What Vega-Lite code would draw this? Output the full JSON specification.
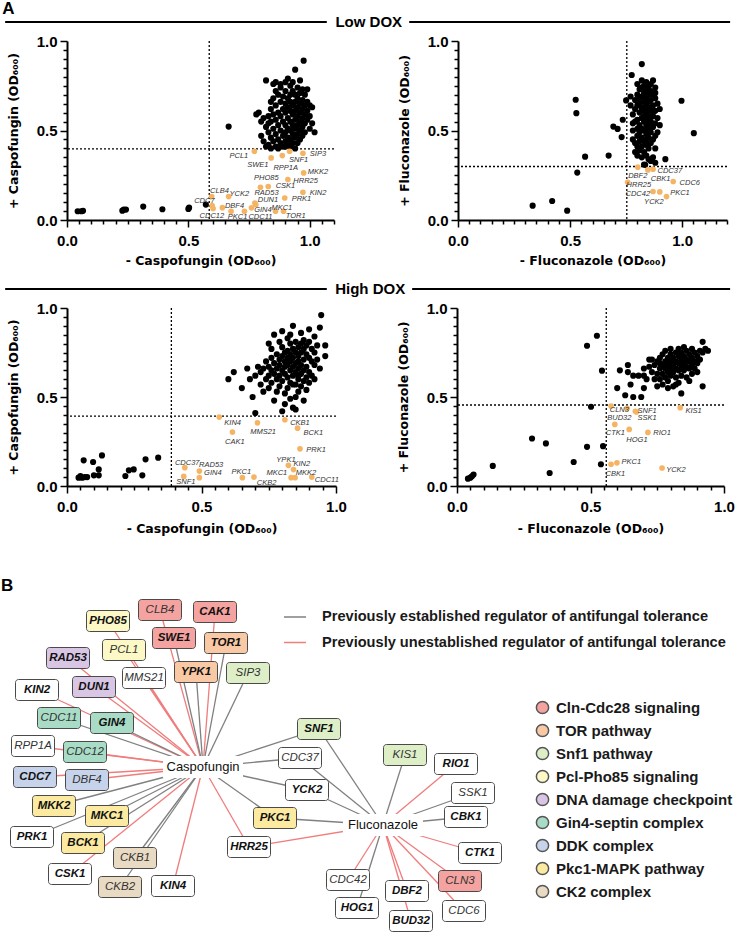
{
"$schema":"https://vega.github.io/schema/vega-lite/v6.json",
"background":"white",
"padding":0,
"spacing":0,
"config":{
 "view":{"stroke":null},
 "font":"Liberation Sans",
 "axis":{"domainColor":"#000","domainWidth":2,"tickColor":"#000","tickWidth":1.5,"labelColor":"#000","labelFont":"Liberation Sans","labelFontSize":15,"labelFontWeight":"bold","titleColor":"#000","titleFont":"DejaVu Sans","titleFontSize":12.5,"titleFontWeight":"bold","grid":false,"labelFlush":false,"labelOverlap":false,"tickCount":100},
 "legend":{"labelFont":"Liberation Sans","labelFontSize":15,"labelFontWeight":"bold","labelColor":"#1a1a1a"}
},
"datasets":{
 "sec":[{"panel":"A","section":"Low DOX"},{"panel":"","section":"High DOX"}],
 "thr":[{"p":"LC","vx":0.586,"hy":0.397},{"p":"LF","vx":0.753,"hy":0.299},{"p":"HC","vx":0.388,"hy":0.393},{"p":"HF","vx":0.559,"hy":0.455}],
 "pts":[
{"p":"LC","x":0.044,"y":0.049},{"p":"LC","x":0.059,"y":0.049},{"p":"LC","x":0.066,"y":0.051},{"p":"LC","x":0.228,"y":0.052},{"p":"LC","x":0.234,"y":0.058},{"p":"LC","x":0.243,"y":0.058},{"p":"LC","x":0.314,"y":0.075},{"p":"LC","x":0.393,"y":0.06},{"p":"LC","x":0.5,"y":0.062},{"p":"LC","x":0.503,"y":0.069},{"p":"LC","x":0.572,"y":0.086},{"p":"LC","x":0.666,"y":0.522},
{"p":"LC","x":0.78,"y":0.59},{"p":"LC","x":0.79,"y":0.6},{"p":"LC","x":0.8,"y":0.55},{"p":"LC","x":0.8,"y":0.47},{"p":"LC","x":0.81,"y":0.44},{"p":"LC","x":0.82,"y":0.78},{"p":"LC","x":0.82,"y":0.52},{"p":"LC","x":0.82,"y":0.41},{"p":"LC","x":0.83,"y":0.58},{"p":"LC","x":0.83,"y":0.49},{"p":"LC","x":0.83,"y":0.42},{"p":"LC","x":0.84,"y":0.62},{"p":"LC","x":0.84,"y":0.55},{"p":"LC","x":0.84,"y":0.46},{"p":"LC","x":0.84,"y":0.4},{"p":"LC","x":0.85,"y":0.76},{"p":"LC","x":0.85,"y":0.68},{"p":"LC","x":0.85,"y":0.59},{"p":"LC","x":0.85,"y":0.51},{"p":"LC","x":0.85,"y":0.44},{"p":"LC","x":0.86,"y":0.77},{"p":"LC","x":0.86,"y":0.64},{"p":"LC","x":0.86,"y":0.56},{"p":"LC","x":0.86,"y":0.48},{"p":"LC","x":0.86,"y":0.41},{"p":"LC","x":0.87,"y":0.7},{"p":"LC","x":0.87,"y":0.6},{"p":"LC","x":0.87,"y":0.53},{"p":"LC","x":0.87,"y":0.45},{"p":"LC","x":0.88,"y":0.74},{"p":"LC","x":0.88,"y":0.66},{"p":"LC","x":0.88,"y":0.58},{"p":"LC","x":0.88,"y":0.5},{"p":"LC","x":0.88,"y":0.43},{"p":"LC","x":0.89,"y":0.69},{"p":"LC","x":0.89,"y":0.62},{"p":"LC","x":0.89,"y":0.55},{"p":"LC","x":0.89,"y":0.47},{"p":"LC","x":0.89,"y":0.41},{"p":"LC","x":0.9,"y":0.72},{"p":"LC","x":0.9,"y":0.65},{"p":"LC","x":0.9,"y":0.6},{"p":"LC","x":0.9,"y":0.53},{"p":"LC","x":0.9,"y":0.49},{"p":"LC","x":0.9,"y":0.44},{"p":"LC","x":0.91,"y":0.79},{"p":"LC","x":0.91,"y":0.68},{"p":"LC","x":0.91,"y":0.63},{"p":"LC","x":0.91,"y":0.57},{"p":"LC","x":0.91,"y":0.51},{"p":"LC","x":0.91,"y":0.46},{"p":"LC","x":0.91,"y":0.42},{"p":"LC","x":0.92,"y":0.75},{"p":"LC","x":0.92,"y":0.7},{"p":"LC","x":0.92,"y":0.66},{"p":"LC","x":0.92,"y":0.61},{"p":"LC","x":0.92,"y":0.55},{"p":"LC","x":0.92,"y":0.5},{"p":"LC","x":0.92,"y":0.45},{"p":"LC","x":0.93,"y":0.77},{"p":"LC","x":0.93,"y":0.72},{"p":"LC","x":0.93,"y":0.64},{"p":"LC","x":0.93,"y":0.59},{"p":"LC","x":0.93,"y":0.53},{"p":"LC","x":0.93,"y":0.48},{"p":"LC","x":0.93,"y":0.43},{"p":"LC","x":0.94,"y":0.84},{"p":"LC","x":0.94,"y":0.7},{"p":"LC","x":0.94,"y":0.66},{"p":"LC","x":0.94,"y":0.61},{"p":"LC","x":0.94,"y":0.56},{"p":"LC","x":0.94,"y":0.51},{"p":"LC","x":0.94,"y":0.46},{"p":"LC","x":0.94,"y":0.4},{"p":"LC","x":0.95,"y":0.74},{"p":"LC","x":0.95,"y":0.68},{"p":"LC","x":0.95,"y":0.63},{"p":"LC","x":0.95,"y":0.58},{"p":"LC","x":0.95,"y":0.53},{"p":"LC","x":0.95,"y":0.48},{"p":"LC","x":0.95,"y":0.43},{"p":"LC","x":0.96,"y":0.78},{"p":"LC","x":0.96,"y":0.71},{"p":"LC","x":0.96,"y":0.65},{"p":"LC","x":0.96,"y":0.6},{"p":"LC","x":0.96,"y":0.55},{"p":"LC","x":0.96,"y":0.5},{"p":"LC","x":0.96,"y":0.45},{"p":"LC","x":0.975,"y":0.89},{"p":"LC","x":0.97,"y":0.73},{"p":"LC","x":0.97,"y":0.67},{"p":"LC","x":0.97,"y":0.62},{"p":"LC","x":0.97,"y":0.57},{"p":"LC","x":0.97,"y":0.52},{"p":"LC","x":0.97,"y":0.47},{"p":"LC","x":0.98,"y":0.7},{"p":"LC","x":0.98,"y":0.64},{"p":"LC","x":0.98,"y":0.59},{"p":"LC","x":0.98,"y":0.54},{"p":"LC","x":0.98,"y":0.49},{"p":"LC","x":0.99,"y":0.73},{"p":"LC","x":0.99,"y":0.66},{"p":"LC","x":0.99,"y":0.61},{"p":"LC","x":0.99,"y":0.56},{"p":"LC","x":1.0,"y":0.64},{"p":"LC","x":1.0,"y":0.58},{"p":"LC","x":1.0,"y":0.51},{"p":"LC","x":1.01,"y":0.63},{"p":"LC","x":1.01,"y":0.54},{"p":"LC","x":1.02,"y":0.49},{"p":"LC","x":0.87,"y":0.4},{"p":"LC","x":0.9,"y":0.41},{"p":"LC","x":0.92,"y":0.41},{"p":"LC","x":0.88,"y":0.76},{"p":"LC","x":0.9,"y":0.77},{"p":"LC","x":0.83,"y":0.54},{"p":"LC","x":0.81,"y":0.57},{"p":"LC","x":0.86,"y":0.72},{"p":"LC","x":0.84,"y":0.66},
{"p":"LC","g":"PCL1","x":0.772,"y":0.384,"lx":0.708,"ly":0.36},
{"p":"LC","g":"SWE1","x":0.841,"y":0.347,"lx":0.786,"ly":0.31},
{"p":"LC","g":"RPP1A","x":0.887,"y":0.36,"lx":0.901,"ly":0.288},
{"p":"LC","g":"SNF1","x":0.917,"y":0.384,"lx":0.954,"ly":0.336},
{"p":"LC","g":"SIP3","x":0.972,"y":0.373,"lx":1.034,"ly":0.369},
{"p":"LC","g":"MKK2","x":0.975,"y":0.263,"lx":1.034,"ly":0.267},
{"p":"LC","g":"PHO85","x":0.797,"y":0.183,"lx":0.821,"ly":0.232},
{"p":"LC","g":"CSK1","x":0.829,"y":0.187,"lx":0.9,"ly":0.19},
{"p":"LC","g":"HRR25","x":0.91,"y":0.226,"lx":0.983,"ly":0.216},
{"p":"LC","g":"RAD53","x":0.774,"y":0.095,"lx":0.822,"ly":0.152},
{"p":"LC","g":"DUN1","x":0.778,"y":0.085,"lx":0.828,"ly":0.11},
{"p":"LC","g":"GIN4","x":0.76,"y":0.068,"lx":0.807,"ly":0.056},
{"p":"LC","g":"KIN2","x":0.972,"y":0.155,"lx":1.034,"ly":0.149},
{"p":"LC","g":"PRK1","x":0.897,"y":0.123,"lx":0.966,"ly":0.118},
{"p":"LC","g":"CLB4","x":0.596,"y":0.131,"lx":0.628,"ly":0.164},
{"p":"LC","g":"YCK2","x":0.666,"y":0.131,"lx":0.71,"ly":0.146},
{"p":"LC","g":"CDC7","x":0.598,"y":0.08,"lx":0.566,"ly":0.108},
{"p":"LC","g":"DBF4","x":0.64,"y":0.069,"lx":0.69,"ly":0.08},
{"p":"LC","g":"CDC12","x":0.602,"y":0.064,"lx":0.597,"ly":0.021},
{"p":"LC","g":"PKC1","x":0.676,"y":0.049,"lx":0.703,"ly":0.015},
{"p":"LC","g":"CDC11","x":0.731,"y":0.049,"lx":0.797,"ly":0.015},
{"p":"LC","g":"MKC1","x":0.859,"y":0.049,"lx":0.885,"ly":0.068},
{"p":"LC","g":"TOR1","x":0.892,"y":0.049,"lx":0.942,"ly":0.024},
{"p":"LF","x":0.333,"y":0.08},{"p":"LF","x":0.42,"y":0.106},{"p":"LF","x":0.487,"y":0.052},{"p":"LF","x":0.525,"y":0.672},{"p":"LF","x":0.528,"y":0.597},{"p":"LF","x":0.532,"y":0.265},{"p":"LF","x":0.567,"y":0.354},{"p":"LF","x":0.672,"y":0.36},{"p":"LF","x":0.693,"y":0.522},{"p":"LF","x":0.712,"y":0.509},{"p":"LF","x":0.73,"y":0.463},{"p":"LF","x":0.735,"y":0.56},{"p":"LF","x":0.75,"y":0.668},{"p":"LF","x":0.775,"y":0.81},{"p":"LF","x":0.82,"y":0.871},{"p":"LF","x":0.997,"y":0.666},{"p":"LF","x":1.052,"y":0.485},{"p":"LF","x":0.925,"y":0.34},{"p":"LF","x":0.835,"y":0.308},
{"p":"LF","x":0.77,"y":0.69},{"p":"LF","x":0.77,"y":0.64},{"p":"LF","x":0.78,"y":0.59},{"p":"LF","x":0.78,"y":0.54},{"p":"LF","x":0.78,"y":0.5},{"p":"LF","x":0.78,"y":0.45},{"p":"LF","x":0.79,"y":0.67},{"p":"LF","x":0.79,"y":0.62},{"p":"LF","x":0.79,"y":0.43},{"p":"LF","x":0.79,"y":0.38},{"p":"LF","x":0.8,"y":0.76},{"p":"LF","x":0.8,"y":0.7},{"p":"LF","x":0.8,"y":0.56},{"p":"LF","x":0.8,"y":0.51},{"p":"LF","x":0.8,"y":0.47},{"p":"LF","x":0.8,"y":0.41},{"p":"LF","x":0.8,"y":0.36},{"p":"LF","x":0.81,"y":0.73},{"p":"LF","x":0.81,"y":0.65},{"p":"LF","x":0.81,"y":0.6},{"p":"LF","x":0.81,"y":0.53},{"p":"LF","x":0.81,"y":0.49},{"p":"LF","x":0.81,"y":0.44},{"p":"LF","x":0.81,"y":0.39},{"p":"LF","x":0.82,"y":0.78},{"p":"LF","x":0.82,"y":0.69},{"p":"LF","x":0.82,"y":0.63},{"p":"LF","x":0.82,"y":0.57},{"p":"LF","x":0.82,"y":0.51},{"p":"LF","x":0.82,"y":0.46},{"p":"LF","x":0.82,"y":0.41},{"p":"LF","x":0.82,"y":0.35},{"p":"LF","x":0.83,"y":0.75},{"p":"LF","x":0.83,"y":0.71},{"p":"LF","x":0.83,"y":0.66},{"p":"LF","x":0.83,"y":0.61},{"p":"LF","x":0.83,"y":0.55},{"p":"LF","x":0.83,"y":0.5},{"p":"LF","x":0.83,"y":0.44},{"p":"LF","x":0.83,"y":0.38},{"p":"LF","x":0.83,"y":0.31},{"p":"LF","x":0.84,"y":0.77},{"p":"LF","x":0.84,"y":0.73},{"p":"LF","x":0.84,"y":0.68},{"p":"LF","x":0.84,"y":0.64},{"p":"LF","x":0.84,"y":0.59},{"p":"LF","x":0.84,"y":0.53},{"p":"LF","x":0.84,"y":0.48},{"p":"LF","x":0.84,"y":0.42},{"p":"LF","x":0.84,"y":0.36},{"p":"LF","x":0.85,"y":0.74},{"p":"LF","x":0.85,"y":0.7},{"p":"LF","x":0.85,"y":0.66},{"p":"LF","x":0.85,"y":0.61},{"p":"LF","x":0.85,"y":0.57},{"p":"LF","x":0.85,"y":0.51},{"p":"LF","x":0.85,"y":0.46},{"p":"LF","x":0.85,"y":0.4},{"p":"LF","x":0.85,"y":0.34},{"p":"LF","x":0.86,"y":0.76},{"p":"LF","x":0.86,"y":0.72},{"p":"LF","x":0.86,"y":0.67},{"p":"LF","x":0.86,"y":0.62},{"p":"LF","x":0.86,"y":0.55},{"p":"LF","x":0.86,"y":0.49},{"p":"LF","x":0.86,"y":0.43},{"p":"LF","x":0.86,"y":0.33},{"p":"LF","x":0.87,"y":0.78},{"p":"LF","x":0.87,"y":0.7},{"p":"LF","x":0.87,"y":0.64},{"p":"LF","x":0.87,"y":0.58},{"p":"LF","x":0.87,"y":0.52},{"p":"LF","x":0.87,"y":0.45},{"p":"LF","x":0.87,"y":0.35},{"p":"LF","x":0.88,"y":0.74},{"p":"LF","x":0.88,"y":0.68},{"p":"LF","x":0.88,"y":0.61},{"p":"LF","x":0.88,"y":0.54},{"p":"LF","x":0.88,"y":0.47},{"p":"LF","x":0.88,"y":0.4},{"p":"LF","x":0.88,"y":0.32},{"p":"LF","x":0.89,"y":0.65},{"p":"LF","x":0.89,"y":0.57},{"p":"LF","x":0.89,"y":0.49},{"p":"LF","x":0.9,"y":0.62},{"p":"LF","x":0.9,"y":0.53},{"p":"LF","x":0.79,"y":0.55},{"p":"LF","x":0.8,"y":0.64},{"p":"LF","x":0.82,"y":0.74},{"p":"LF","x":0.83,"y":0.58},{"p":"LF","x":0.84,"y":0.5},{"p":"LF","x":0.85,"y":0.63},{"p":"LF","x":0.86,"y":0.58},{"p":"LF","x":0.87,"y":0.61},{"p":"LF","x":0.81,"y":0.68},{"p":"LF","x":0.83,"y":0.69},{"p":"LF","x":0.84,"y":0.45},{"p":"LF","x":0.86,"y":0.52},{"p":"LF","x":0.82,"y":0.62},{"p":"LF","x":0.85,"y":0.54},{"p":"LF","x":0.88,"y":0.71},
{"p":"LF","g":"DBF2","x":0.802,"y":0.295,"lx":0.802,"ly":0.246},
{"p":"LF","g":"CBK1","x":0.847,"y":0.28,"lx":0.904,"ly":0.229},
{"p":"LF","g":"CDC37","x":0.87,"y":0.284,"lx":0.945,"ly":0.276},
{"p":"LF","g":"HRR25","x":0.757,"y":0.211,"lx":0.807,"ly":0.194},
{"p":"LF","g":"CDC6","x":0.96,"y":0.215,"lx":1.034,"ly":0.209},
{"p":"LF","g":"CDC42","x":0.87,"y":0.159,"lx":0.802,"ly":0.144},
{"p":"LF","g":"PKC1","x":0.9,"y":0.157,"lx":0.99,"ly":0.153},
{"p":"LF","g":"YCK2","x":0.93,"y":0.131,"lx":0.874,"ly":0.103},
{"p":"HC","x":0.043,"y":0.047},{"p":"HC","x":0.05,"y":0.056},{"p":"HC","x":0.056,"y":0.047},{"p":"HC","x":0.066,"y":0.05},{"p":"HC","x":0.075,"y":0.05},{"p":"HC","x":0.062,"y":0.144},{"p":"HC","x":0.097,"y":0.135},{"p":"HC","x":0.118,"y":0.093},{"p":"HC","x":0.118,"y":0.06},{"p":"HC","x":0.1,"y":0.06},{"p":"HC","x":0.13,"y":0.172},{"p":"HC","x":0.217,"y":0.056},{"p":"HC","x":0.23,"y":0.088},{"p":"HC","x":0.248,"y":0.093},{"p":"HC","x":0.28,"y":0.06},{"p":"HC","x":0.292,"y":0.15},{"p":"HC","x":0.339,"y":0.159},
{"p":"HC","x":0.62,"y":0.64},{"p":"HC","x":0.6,"y":0.6},{"p":"HC","x":0.65,"y":0.55},{"p":"HC","x":0.68,"y":0.6},{"p":"HC","x":0.69,"y":0.5},{"p":"HC","x":0.67,"y":0.66},{"p":"HC","x":0.7,"y":0.62},{"p":"HC","x":0.71,"y":0.67},{"p":"HC","x":0.72,"y":0.57},{"p":"HC","x":0.72,"y":0.64},{"p":"HC","x":0.73,"y":0.66},{"p":"HC","x":0.73,"y":0.53},{"p":"HC","x":0.74,"y":0.6},{"p":"HC","x":0.74,"y":0.7},{"p":"HC","x":0.75,"y":0.62},{"p":"HC","x":0.75,"y":0.67},{"p":"HC","x":0.75,"y":0.55},{"p":"HC","x":0.76,"y":0.77},{"p":"HC","x":0.76,"y":0.72},{"p":"HC","x":0.76,"y":0.65},{"p":"HC","x":0.76,"y":0.58},{"p":"HC","x":0.77,"y":0.85},{"p":"HC","x":0.77,"y":0.69},{"p":"HC","x":0.77,"y":0.63},{"p":"HC","x":0.77,"y":0.48},{"p":"HC","x":0.78,"y":0.74},{"p":"HC","x":0.78,"y":0.66},{"p":"HC","x":0.78,"y":0.6},{"p":"HC","x":0.78,"y":0.53},{"p":"HC","x":0.79,"y":0.71},{"p":"HC","x":0.79,"y":0.68},{"p":"HC","x":0.79,"y":0.62},{"p":"HC","x":0.79,"y":0.56},{"p":"HC","x":0.8,"y":0.87},{"p":"HC","x":0.8,"y":0.78},{"p":"HC","x":0.8,"y":0.73},{"p":"HC","x":0.8,"y":0.65},{"p":"HC","x":0.8,"y":0.59},{"p":"HC","x":0.8,"y":0.42},{"p":"HC","x":0.81,"y":0.7},{"p":"HC","x":0.81,"y":0.67},{"p":"HC","x":0.81,"y":0.63},{"p":"HC","x":0.81,"y":0.52},{"p":"HC","x":0.81,"y":0.46},{"p":"HC","x":0.82,"y":0.83},{"p":"HC","x":0.82,"y":0.76},{"p":"HC","x":0.82,"y":0.72},{"p":"HC","x":0.82,"y":0.68},{"p":"HC","x":0.82,"y":0.61},{"p":"HC","x":0.82,"y":0.55},{"p":"HC","x":0.83,"y":0.8},{"p":"HC","x":0.83,"y":0.74},{"p":"HC","x":0.83,"y":0.7},{"p":"HC","x":0.83,"y":0.65},{"p":"HC","x":0.83,"y":0.58},{"p":"HC","x":0.83,"y":0.49},{"p":"HC","x":0.84,"y":0.9},{"p":"HC","x":0.84,"y":0.77},{"p":"HC","x":0.84,"y":0.72},{"p":"HC","x":0.84,"y":0.67},{"p":"HC","x":0.84,"y":0.62},{"p":"HC","x":0.84,"y":0.44},{"p":"HC","x":0.85,"y":0.81},{"p":"HC","x":0.85,"y":0.75},{"p":"HC","x":0.85,"y":0.69},{"p":"HC","x":0.85,"y":0.64},{"p":"HC","x":0.85,"y":0.57},{"p":"HC","x":0.85,"y":0.5},{"p":"HC","x":0.86,"y":0.78},{"p":"HC","x":0.86,"y":0.73},{"p":"HC","x":0.86,"y":0.7},{"p":"HC","x":0.86,"y":0.66},{"p":"HC","x":0.86,"y":0.6},{"p":"HC","x":0.86,"y":0.53},{"p":"HC","x":0.87,"y":0.86},{"p":"HC","x":0.87,"y":0.8},{"p":"HC","x":0.87,"y":0.75},{"p":"HC","x":0.87,"y":0.68},{"p":"HC","x":0.87,"y":0.63},{"p":"HC","x":0.87,"y":0.56},{"p":"HC","x":0.88,"y":0.82},{"p":"HC","x":0.88,"y":0.77},{"p":"HC","x":0.88,"y":0.71},{"p":"HC","x":0.88,"y":0.65},{"p":"HC","x":0.88,"y":0.59},{"p":"HC","x":0.88,"y":0.48},{"p":"HC","x":0.89,"y":0.79},{"p":"HC","x":0.89,"y":0.74},{"p":"HC","x":0.89,"y":0.67},{"p":"HC","x":0.89,"y":0.61},{"p":"HC","x":0.89,"y":0.54},{"p":"HC","x":0.9,"y":0.88},{"p":"HC","x":0.9,"y":0.81},{"p":"HC","x":0.9,"y":0.72},{"p":"HC","x":0.9,"y":0.64},{"p":"HC","x":0.9,"y":0.58},{"p":"HC","x":0.91,"y":0.77},{"p":"HC","x":0.91,"y":0.7},{"p":"HC","x":0.91,"y":0.62},{"p":"HC","x":0.92,"y":0.84},{"p":"HC","x":0.92,"y":0.75},{"p":"HC","x":0.92,"y":0.68},{"p":"HC","x":0.92,"y":0.6},{"p":"HC","x":0.93,"y":0.79},{"p":"HC","x":0.93,"y":0.71},{"p":"HC","x":0.94,"y":0.89},{"p":"HC","x":0.945,"y":0.96},{"p":"HC","x":0.94,"y":0.66},{"p":"HC","x":0.96,"y":0.73},{"p":"HC","x":0.96,"y":0.79},{"p":"HC","x":0.7,"y":0.41},{"p":"HC","x":0.85,"y":0.43},{"p":"HC","x":0.83,"y":0.85},{"p":"HC","x":0.79,"y":0.81},{"p":"HC","x":0.75,"y":0.8},{"p":"HC","x":0.81,"y":0.75},{"p":"HC","x":0.86,"y":0.62},{"p":"HC","x":0.84,"y":0.57},
{"p":"HC","g":"KIN4","x":0.566,"y":0.387,"lx":0.616,"ly":0.353},
{"p":"HC","g":"CAK1","x":0.615,"y":0.303,"lx":0.624,"ly":0.247},
{"p":"HC","g":"MMS21","x":0.708,"y":0.355,"lx":0.729,"ly":0.303},
{"p":"HC","g":"CKB1","x":0.81,"y":0.372,"lx":0.866,"ly":0.353},
{"p":"HC","g":"BCK1","x":0.857,"y":0.325,"lx":0.916,"ly":0.299},
{"p":"HC","g":"PRK1","x":0.866,"y":0.209,"lx":0.926,"ly":0.2},
{"p":"HC","g":"YPK1","x":0.823,"y":0.116,"lx":0.814,"ly":0.144},
{"p":"HC","g":"KIN2","x":0.842,"y":0.092,"lx":0.873,"ly":0.125},
{"p":"HC","g":"MKC1","x":0.833,"y":0.047,"lx":0.78,"ly":0.073},
{"p":"HC","g":"MKK2","x":0.848,"y":0.047,"lx":0.888,"ly":0.075},
{"p":"HC","g":"CDC11","x":0.91,"y":0.05,"lx":0.966,"ly":0.032},
{"p":"HC","g":"PKC1","x":0.652,"y":0.047,"lx":0.648,"ly":0.079},
{"p":"HC","g":"CKB2","x":0.695,"y":0.05,"lx":0.742,"ly":0.019},
{"p":"HC","g":"CDC37","x":0.438,"y":0.103,"lx":0.447,"ly":0.129},
{"p":"HC","g":"RAD53","x":0.492,"y":0.084,"lx":0.536,"ly":0.12},
{"p":"HC","g":"GIN4","x":0.492,"y":0.047,"lx":0.542,"ly":0.073},
{"p":"HC","g":"SNF1","x":0.434,"y":0.054,"lx":0.442,"ly":0.022},
{"p":"HF","x":0.041,"y":0.041},{"p":"HF","x":0.05,"y":0.047},{"p":"HF","x":0.056,"y":0.055},{"p":"HF","x":0.062,"y":0.064},{"p":"HF","x":0.134,"y":0.113},{"p":"HF","x":0.281,"y":0.267},{"p":"HF","x":0.333,"y":0.239},{"p":"HF","x":0.347,"y":0.073},{"p":"HF","x":0.437,"y":0.135},{"p":"HF","x":0.487,"y":0.22},{"p":"HF","x":0.487,"y":0.788},{"p":"HF","x":0.524,"y":0.844},{"p":"HF","x":0.502,"y":0.445},{"p":"HF","x":0.539,"y":0.122},{"p":"HF","x":0.547,"y":0.224},{"p":"HF","x":0.543,"y":0.648},
{"p":"HF","x":0.6,"y":0.55},{"p":"HF","x":0.61,"y":0.65},{"p":"HF","x":0.63,"y":0.51},{"p":"HF","x":0.64,"y":0.68},{"p":"HF","x":0.64,"y":0.64},{"p":"HF","x":0.65,"y":0.57},{"p":"HF","x":0.66,"y":0.5},{"p":"HF","x":0.68,"y":0.62},{"p":"HF","x":0.69,"y":0.5},{"p":"HF","x":0.7,"y":0.66},{"p":"HF","x":0.7,"y":0.55},{"p":"HF","x":0.71,"y":0.6},{"p":"HF","x":0.72,"y":0.67},{"p":"HF","x":0.72,"y":0.71},{"p":"HF","x":0.73,"y":0.64},{"p":"HF","x":0.74,"y":0.6},{"p":"HF","x":0.74,"y":0.68},{"p":"HF","x":0.75,"y":0.63},{"p":"HF","x":0.75,"y":0.7},{"p":"HF","x":0.75,"y":0.56},{"p":"HF","x":0.76,"y":0.66},{"p":"HF","x":0.76,"y":0.72},{"p":"HF","x":0.76,"y":0.6},{"p":"HF","x":0.77,"y":0.68},{"p":"HF","x":0.77,"y":0.74},{"p":"HF","x":0.77,"y":0.63},{"p":"HF","x":0.77,"y":0.57},{"p":"HF","x":0.78,"y":0.7},{"p":"HF","x":0.78,"y":0.66},{"p":"HF","x":0.78,"y":0.61},{"p":"HF","x":0.78,"y":0.76},{"p":"HF","x":0.79,"y":0.72},{"p":"HF","x":0.79,"y":0.68},{"p":"HF","x":0.79,"y":0.64},{"p":"HF","x":0.79,"y":0.59},{"p":"HF","x":0.8,"y":0.74},{"p":"HF","x":0.8,"y":0.7},{"p":"HF","x":0.8,"y":0.66},{"p":"HF","x":0.8,"y":0.62},{"p":"HF","x":0.8,"y":0.77},{"p":"HF","x":0.81,"y":0.72},{"p":"HF","x":0.81,"y":0.68},{"p":"HF","x":0.81,"y":0.64},{"p":"HF","x":0.81,"y":0.56},{"p":"HF","x":0.82,"y":0.75},{"p":"HF","x":0.82,"y":0.7},{"p":"HF","x":0.82,"y":0.66},{"p":"HF","x":0.82,"y":0.61},{"p":"HF","x":0.83,"y":0.77},{"p":"HF","x":0.83,"y":0.73},{"p":"HF","x":0.83,"y":0.69},{"p":"HF","x":0.83,"y":0.65},{"p":"HF","x":0.83,"y":0.58},{"p":"HF","x":0.84,"y":0.75},{"p":"HF","x":0.84,"y":0.71},{"p":"HF","x":0.84,"y":0.67},{"p":"HF","x":0.84,"y":0.62},{"p":"HF","x":0.84,"y":0.52},{"p":"HF","x":0.85,"y":0.78},{"p":"HF","x":0.85,"y":0.73},{"p":"HF","x":0.85,"y":0.69},{"p":"HF","x":0.85,"y":0.65},{"p":"HF","x":0.86,"y":0.76},{"p":"HF","x":0.86,"y":0.71},{"p":"HF","x":0.86,"y":0.67},{"p":"HF","x":0.86,"y":0.61},{"p":"HF","x":0.87,"y":0.74},{"p":"HF","x":0.87,"y":0.7},{"p":"HF","x":0.87,"y":0.66},{"p":"HF","x":0.88,"y":0.77},{"p":"HF","x":0.88,"y":0.72},{"p":"HF","x":0.88,"y":0.68},{"p":"HF","x":0.88,"y":0.63},{"p":"HF","x":0.89,"y":0.75},{"p":"HF","x":0.89,"y":0.7},{"p":"HF","x":0.89,"y":0.66},{"p":"HF","x":0.9,"y":0.73},{"p":"HF","x":0.9,"y":0.69},{"p":"HF","x":0.9,"y":0.64},{"p":"HF","x":0.91,"y":0.76},{"p":"HF","x":0.91,"y":0.71},{"p":"HF","x":0.92,"y":0.81},{"p":"HF","x":0.92,"y":0.75},{"p":"HF","x":0.92,"y":0.56},{"p":"HF","x":0.93,"y":0.77},{"p":"HF","x":0.94,"y":0.76},{"p":"HF","x":0.79,"y":0.55},{"p":"HF","x":0.82,"y":0.57},{"p":"HF","x":0.87,"y":0.59},{"p":"HF","x":0.76,"y":0.69},{"p":"HF","x":0.73,"y":0.71},{"p":"HF","x":0.7,"y":0.62},{"p":"HF","x":0.66,"y":0.62},
{"p":"HF","g":"CLN3","x":0.577,"y":0.449,"lx":0.608,"ly":0.427},
{"p":"HF","g":"BUD32","x":0.637,"y":0.436,"lx":0.608,"ly":0.38},
{"p":"HF","g":"SNF1","x":0.668,"y":0.42,"lx":0.712,"ly":0.423},
{"p":"HF","g":"SSK1","x":0.672,"y":0.416,"lx":0.712,"ly":0.38},
{"p":"HF","g":"KIS1","x":0.836,"y":0.44,"lx":0.886,"ly":0.423},
{"p":"HF","g":"CTK1","x":0.591,"y":0.346,"lx":0.593,"ly":0.295},
{"p":"HF","g":"HOG1","x":0.645,"y":0.318,"lx":0.674,"ly":0.258},
{"p":"HF","g":"RIO1","x":0.715,"y":0.301,"lx":0.768,"ly":0.295},
{"p":"HF","g":"PKC1","x":0.599,"y":0.13,"lx":0.653,"ly":0.135},
{"p":"HF","g":"CBK1","x":0.577,"y":0.122,"lx":0.593,"ly":0.07},
{"p":"HF","g":"YCK2","x":0.768,"y":0.101,"lx":0.82,"ly":0.092}
 ],
 "nodes":[
{"gene":"CLB4","nx":160,"ny":613,"cat":"Cln-Cdc28 signaling","tier":2},
{"gene":"CAK1","nx":215,"ny":615,"cat":"Cln-Cdc28 signaling","tier":1},
{"gene":"PHO85","nx":108,"ny":624,"cat":"Pcl-Pho85 signaling","tier":1},
{"gene":"SWE1","nx":174,"ny":641,"cat":"Cln-Cdc28 signaling","tier":1},
{"gene":"TOR1","nx":226,"ny":646,"cat":"TOR pathway","tier":1},
{"gene":"PCL1","nx":124,"ny":653,"cat":"Pcl-Pho85 signaling","tier":2},
{"gene":"RAD53","nx":68,"ny":661,"cat":"DNA damage checkpoint","tier":1},
{"gene":"YPK1","nx":196,"ny":675,"cat":"TOR pathway","tier":1},
{"gene":"SIP3","nx":248,"ny":676,"cat":"Snf1 pathway","tier":2},
{"gene":"MMS21","nx":144,"ny":681,"cat":"Other","tier":2},
{"gene":"KIN2","nx":37,"ny":693,"cat":"Other","tier":1},
{"gene":"DUN1","nx":94,"ny":690,"cat":"DNA damage checkpoint","tier":1},
{"gene":"CDC11","nx":59,"ny":721,"cat":"Gin4-septin complex","tier":2},
{"gene":"GIN4","nx":112,"ny":726,"cat":"Gin4-septin complex","tier":1},
{"gene":"RPP1A","nx":33,"ny":749,"cat":"Other","tier":2},
{"gene":"CDC12","nx":85,"ny":755,"cat":"Gin4-septin complex","tier":2},
{"gene":"CDC7","nx":35,"ny":780,"cat":"DDK complex","tier":1},
{"gene":"DBF4","nx":87,"ny":783,"cat":"DDK complex","tier":2},
{"gene":"MKK2","nx":54,"ny":809,"cat":"Pkc1-MAPK pathway","tier":1},
{"gene":"MKC1","nx":107,"ny":819,"cat":"Pkc1-MAPK pathway","tier":1},
{"gene":"PRK1","nx":32,"ny":840,"cat":"Other","tier":1},
{"gene":"BCK1","nx":83,"ny":846,"cat":"Pkc1-MAPK pathway","tier":1},
{"gene":"CKB1","nx":135,"ny":861,"cat":"CK2 complex","tier":2},
{"gene":"CSK1","nx":70,"ny":877,"cat":"Other","tier":1},
{"gene":"CKB2","nx":120,"ny":890,"cat":"CK2 complex","tier":2},
{"gene":"KIN4","nx":173,"ny":889,"cat":"Other","tier":1},
{"gene":"SNF1","nx":319,"ny":732,"cat":"Snf1 pathway","tier":1},
{"gene":"CDC37","nx":300,"ny":761,"cat":"Other","tier":2},
{"gene":"YCK2","nx":307,"ny":793,"cat":"Other","tier":1},
{"gene":"PKC1","nx":275,"ny":821,"cat":"Pkc1-MAPK pathway","tier":1},
{"gene":"HRR25","nx":249,"ny":850,"cat":"Other","tier":1},
{"gene":"KIS1","nx":405,"ny":758,"cat":"Snf1 pathway","tier":2},
{"gene":"RIO1","nx":456,"ny":767,"cat":"Other","tier":1},
{"gene":"SSK1","nx":473,"ny":796,"cat":"Other","tier":2},
{"gene":"CBK1","nx":466,"ny":820,"cat":"Other","tier":1},
{"gene":"CTK1","nx":480,"ny":856,"cat":"Other","tier":1},
{"gene":"CLN3","nx":460,"ny":884,"cat":"Cln-Cdc28 signaling","tier":2},
{"gene":"CDC6","nx":464,"ny":914,"cat":"Other","tier":2},
{"gene":"CDC42","nx":348,"ny":883,"cat":"Other","tier":2},
{"gene":"HOG1","nx":357,"ny":911,"cat":"Other","tier":1},
{"gene":"DBF2","nx":407,"ny":894,"cat":"Other","tier":1},
{"gene":"BUD32","nx":411,"ny":924,"cat":"Other","tier":1}
 ],
 "hubs":[{"hub":"Caspofungin","nx":203,"ny":770},{"hub":"Fluconazole","nx":383,"ny":828}],
 "edges":[
{"hub":"Caspofungin","gene":"CLB4","status":"unestablished"},
{"hub":"Caspofungin","gene":"CAK1","status":"unestablished"},
{"hub":"Caspofungin","gene":"PHO85","status":"unestablished"},
{"hub":"Caspofungin","gene":"SWE1","status":"established"},
{"hub":"Caspofungin","gene":"TOR1","status":"established"},
{"hub":"Caspofungin","gene":"PCL1","status":"unestablished"},
{"hub":"Caspofungin","gene":"RAD53","status":"unestablished"},
{"hub":"Caspofungin","gene":"YPK1","status":"established"},
{"hub":"Caspofungin","gene":"SIP3","status":"established"},
{"hub":"Caspofungin","gene":"MMS21","status":"unestablished"},
{"hub":"Caspofungin","gene":"KIN2","status":"unestablished"},
{"hub":"Caspofungin","gene":"DUN1","status":"unestablished"},
{"hub":"Caspofungin","gene":"CDC11","status":"established"},
{"hub":"Caspofungin","gene":"GIN4","status":"established"},
{"hub":"Caspofungin","gene":"RPP1A","status":"unestablished"},
{"hub":"Caspofungin","gene":"CDC12","status":"unestablished"},
{"hub":"Caspofungin","gene":"CDC7","status":"unestablished"},
{"hub":"Caspofungin","gene":"DBF4","status":"unestablished"},
{"hub":"Caspofungin","gene":"MKK2","status":"established"},
{"hub":"Caspofungin","gene":"MKC1","status":"established"},
{"hub":"Caspofungin","gene":"PRK1","status":"established"},
{"hub":"Caspofungin","gene":"BCK1","status":"established"},
{"hub":"Caspofungin","gene":"CKB1","status":"established"},
{"hub":"Caspofungin","gene":"CSK1","status":"unestablished"},
{"hub":"Caspofungin","gene":"CKB2","status":"established"},
{"hub":"Caspofungin","gene":"KIN4","status":"unestablished"},
{"hub":"Caspofungin","gene":"SNF1","status":"established"},
{"hub":"Caspofungin","gene":"CDC37","status":"established"},
{"hub":"Caspofungin","gene":"YCK2","status":"established"},
{"hub":"Caspofungin","gene":"PKC1","status":"established"},
{"hub":"Caspofungin","gene":"HRR25","status":"unestablished"},
{"hub":"Fluconazole","gene":"SNF1","status":"established"},
{"hub":"Fluconazole","gene":"CDC37","status":"established"},
{"hub":"Fluconazole","gene":"YCK2","status":"established"},
{"hub":"Fluconazole","gene":"PKC1","status":"established"},
{"hub":"Fluconazole","gene":"HRR25","status":"unestablished"},
{"hub":"Fluconazole","gene":"KIS1","status":"established"},
{"hub":"Fluconazole","gene":"RIO1","status":"unestablished"},
{"hub":"Fluconazole","gene":"SSK1","status":"established"},
{"hub":"Fluconazole","gene":"CBK1","status":"established"},
{"hub":"Fluconazole","gene":"CTK1","status":"unestablished"},
{"hub":"Fluconazole","gene":"CLN3","status":"unestablished"},
{"hub":"Fluconazole","gene":"CDC6","status":"unestablished"},
{"hub":"Fluconazole","gene":"CDC42","status":"unestablished"},
{"hub":"Fluconazole","gene":"HOG1","status":"established"},
{"hub":"Fluconazole","gene":"DBF2","status":"unestablished"},
{"hub":"Fluconazole","gene":"BUD32","status":"unestablished"}
 ],
 "panelB":[{"panel":"B","nx":1,"ny":589}]
},
"vconcat":[
 {"width":736,"height":34,"data":{"name":"sec"},"transform":[{"filter":"datum.section=='Low DOX'"}],
  "layer":[
   {"mark":{"type":"text","fontSize":17,"fontWeight":"bold","align":"left","baseline":"middle","color":"#000"},
    "encoding":{"x":{"datum":0.003,"type":"quantitative","scale":{"domain":[0,1],"nice":false,"zero":false},"axis":null},"y":{"datum":0.735,"type":"quantitative","scale":{"domain":[0,1],"nice":false,"zero":false},"axis":null},"text":{"field":"panel"}}},
   {"mark":{"type":"rule","strokeWidth":2,"color":"#000"},"encoding":{"x":{"datum":0.007,"type":"quantitative"},"x2":{"datum":0.444},"y":{"datum":0.353,"type":"quantitative"}}},
   {"mark":{"type":"rule","strokeWidth":2,"color":"#000"},"encoding":{"x":{"datum":0.556,"type":"quantitative"},"x2":{"datum":0.992},"y":{"datum":0.353,"type":"quantitative"}}},
   {"mark":{"type":"text","fontSize":15,"fontWeight":"bold","align":"center","baseline":"middle","color":"#000"},"encoding":{"x":{"datum":0.501,"type":"quantitative"},"y":{"datum":0.353,"type":"quantitative"},"text":{"field":"section"}}}
  ]},
 {"spacing":0,"hconcat":[
  {"width":7,"height":179,"data":{"values":[]},"mark":"point"},
  {"width":267,"height":179,
   "layer":[
    {"data":{"name":"thr"},"transform":[{"filter":"datum.p=='LC'"}],"mark":{"type":"rule","strokeDash":[2,2],"strokeWidth":1.3,"color":"#000"},
     "encoding":{"x":{"field":"vx","type":"quantitative","scale":{"domain":[0,1.1],"nice":false,"zero":false},"axis":{"title":"- Caspofungin (OD₆₀₀)","values":[0,0.05,0.1,0.15,0.2,0.25,0.3,0.35,0.4,0.45,0.5,0.55,0.6,0.65,0.7,0.75,0.8,0.85,0.9,0.95,1,1.05,1.1],"tickCount":100,"labelExpr":"abs(datum.value*2-round(datum.value*2))<0.01 ? format(datum.value,'.1f') : ''","labelOverlap":false,"tickSize":{"condition":{"test":"abs(datum.value*2-round(datum.value*2))<0.01","value":7},"value":4},"labelPadding":6,"titlePadding":6}}}},
    {"data":{"name":"thr"},"transform":[{"filter":"datum.p=='LC'"}],"mark":{"type":"rule","strokeDash":[2,2],"strokeWidth":1.3,"color":"#000"},
     "encoding":{"y":{"field":"hy","type":"quantitative","scale":{"domain":[0,1],"nice":false,"zero":false},"axis":{"title":"+ Caspofungin (OD₆₀₀)","values":[0,0.05,0.1,0.15,0.2,0.25,0.3,0.35,0.4,0.45,0.5,0.55,0.6,0.65,0.7,0.75,0.8,0.85,0.9,0.95,1],"tickCount":100,"labelExpr":"abs(datum.value*2-round(datum.value*2))<0.01 ? format(datum.value,'.1f') : ''","labelOverlap":false,"tickSize":{"condition":{"test":"abs(datum.value*2-round(datum.value*2))<0.01","value":7},"value":4},"labelPadding":3,"titlePadding":16}}}},
    {"data":{"name":"pts"},"transform":[{"filter":"datum.p=='LC' && !datum.g"}],"mark":{"type":"circle","size":38,"color":"#000","opacity":1},
     "encoding":{"x":{"field":"x","type":"quantitative"},"y":{"field":"y","type":"quantitative"}}},
    {"data":{"name":"pts"},"transform":[{"filter":"datum.p=='LC' && datum.g"}],"mark":{"type":"circle","size":32,"color":"#F5B464","opacity":1},
     "encoding":{"x":{"field":"x","type":"quantitative"},"y":{"field":"y","type":"quantitative"}}},
    {"data":{"name":"pts"},"transform":[{"filter":"datum.p=='LC' && datum.g"}],"mark":{"type":"text","fontSize":7.5,"fontStyle":"italic","color":"#333"},
     "encoding":{"x":{"field":"lx","type":"quantitative"},"y":{"field":"ly","type":"quantitative"},"text":{"field":"g"}}}
   ]},
  {"width":63,"height":179,"data":{"values":[]},"mark":"point"},
  {"width":269,"height":179,
   "layer":[
    {"data":{"name":"thr"},"transform":[{"filter":"datum.p=='LF'"}],"mark":{"type":"rule","strokeDash":[2,2],"strokeWidth":1.3,"color":"#000"},
     "encoding":{"x":{"field":"vx","type":"quantitative","scale":{"domain":[0,1.2],"nice":false,"zero":false},"axis":{"title":"- Fluconazole (OD₆₀₀)","values":[0,0.05,0.1,0.15,0.2,0.25,0.3,0.35,0.4,0.45,0.5,0.55,0.6,0.65,0.7,0.75,0.8,0.85,0.9,0.95,1,1.05,1.1,1.15,1.2],"tickCount":100,"labelExpr":"abs(datum.value*2-round(datum.value*2))<0.01 ? format(datum.value,'.1f') : ''","labelOverlap":false,"tickSize":{"condition":{"test":"abs(datum.value*2-round(datum.value*2))<0.01","value":7},"value":4},"labelPadding":6,"titlePadding":6}}}},
    {"data":{"name":"thr"},"transform":[{"filter":"datum.p=='LF'"}],"mark":{"type":"rule","strokeDash":[2,2],"strokeWidth":1.3,"color":"#000"},
     "encoding":{"y":{"field":"hy","type":"quantitative","scale":{"domain":[0,1],"nice":false,"zero":false},"axis":{"title":"+ Fluconazole (OD₆₀₀)","values":[0,0.05,0.1,0.15,0.2,0.25,0.3,0.35,0.4,0.45,0.5,0.55,0.6,0.65,0.7,0.75,0.8,0.85,0.9,0.95,1],"tickCount":100,"labelExpr":"abs(datum.value*2-round(datum.value*2))<0.01 ? format(datum.value,'.1f') : ''","labelOverlap":false,"tickSize":{"condition":{"test":"abs(datum.value*2-round(datum.value*2))<0.01","value":7},"value":4},"labelPadding":3,"titlePadding":16}}}},
    {"data":{"name":"pts"},"transform":[{"filter":"datum.p=='LF' && !datum.g"}],"mark":{"type":"circle","size":38,"color":"#000","opacity":1},
     "encoding":{"x":{"field":"x","type":"quantitative"},"y":{"field":"y","type":"quantitative"}}},
    {"data":{"name":"pts"},"transform":[{"filter":"datum.p=='LF' && datum.g"}],"mark":{"type":"circle","size":32,"color":"#F5B464","opacity":1},
     "encoding":{"x":{"field":"x","type":"quantitative"},"y":{"field":"y","type":"quantitative"}}},
    {"data":{"name":"pts"},"transform":[{"filter":"datum.p=='LF' && datum.g"}],"mark":{"type":"text","fontSize":7.5,"fontStyle":"italic","color":"#333"},
     "encoding":{"x":{"field":"lx","type":"quantitative"},"y":{"field":"ly","type":"quantitative"},"text":{"field":"g"}}}
   ]}
 ]},
 {"width":736,"height":34,"data":{"name":"sec"},"transform":[{"filter":"datum.section=='High DOX'"}],
  "layer":[
   {"mark":{"type":"rule","strokeWidth":2,"color":"#000"},"encoding":{"x":{"datum":0.007,"type":"quantitative","scale":{"domain":[0,1],"nice":false,"zero":false},"axis":null},"x2":{"datum":0.444},"y":{"datum":0.35,"type":"quantitative","scale":{"domain":[0,1],"nice":false,"zero":false},"axis":null}}},
   {"mark":{"type":"rule","strokeWidth":2,"color":"#000"},"encoding":{"x":{"datum":0.56,"type":"quantitative"},"x2":{"datum":0.992},"y":{"datum":0.35,"type":"quantitative"}}},
   {"mark":{"type":"text","fontSize":15,"fontWeight":"bold","align":"center","baseline":"middle","color":"#000"},"encoding":{"x":{"datum":0.503,"type":"quantitative"},"y":{"datum":0.35,"type":"quantitative"},"text":{"field":"section"}}}
  ]},
 {"spacing":0,"hconcat":[
  {"width":7,"height":178,"data":{"values":[]},"mark":"point"},
  {"width":269,"height":178,
   "layer":[
    {"data":{"name":"thr"},"transform":[{"filter":"datum.p=='HC'"}],"mark":{"type":"rule","strokeDash":[2,2],"strokeWidth":1.3,"color":"#000"},
     "encoding":{"x":{"field":"vx","type":"quantitative","scale":{"domain":[0,1],"nice":false,"zero":false},"axis":{"title":"- Caspofungin (OD₆₀₀)","values":[0,0.05,0.1,0.15,0.2,0.25,0.3,0.35,0.4,0.45,0.5,0.55,0.6,0.65,0.7,0.75,0.8,0.85,0.9,0.95,1],"tickCount":100,"labelExpr":"abs(datum.value*2-round(datum.value*2))<0.01 ? format(datum.value,'.1f') : ''","labelOverlap":false,"tickSize":{"condition":{"test":"abs(datum.value*2-round(datum.value*2))<0.01","value":7},"value":4},"labelPadding":6,"titlePadding":8}}}},
    {"data":{"name":"thr"},"transform":[{"filter":"datum.p=='HC'"}],"mark":{"type":"rule","strokeDash":[2,2],"strokeWidth":1.3,"color":"#000"},
     "encoding":{"y":{"field":"hy","type":"quantitative","scale":{"domain":[0,1],"nice":false,"zero":false},"axis":{"title":"+ Caspofungin (OD₆₀₀)","values":[0,0.05,0.1,0.15,0.2,0.25,0.3,0.35,0.4,0.45,0.5,0.55,0.6,0.65,0.7,0.75,0.8,0.85,0.9,0.95,1],"tickCount":100,"labelExpr":"abs(datum.value*2-round(datum.value*2))<0.01 ? format(datum.value,'.1f') : ''","labelOverlap":false,"tickSize":{"condition":{"test":"abs(datum.value*2-round(datum.value*2))<0.01","value":7},"value":4},"labelPadding":3,"titlePadding":16}}}},
    {"data":{"name":"pts"},"transform":[{"filter":"datum.p=='HC' && !datum.g"}],"mark":{"type":"circle","size":38,"color":"#000","opacity":1},
     "encoding":{"x":{"field":"x","type":"quantitative"},"y":{"field":"y","type":"quantitative"}}},
    {"data":{"name":"pts"},"transform":[{"filter":"datum.p=='HC' && datum.g"}],"mark":{"type":"circle","size":32,"color":"#F5B464","opacity":1},
     "encoding":{"x":{"field":"x","type":"quantitative"},"y":{"field":"y","type":"quantitative"}}},
    {"data":{"name":"pts"},"transform":[{"filter":"datum.p=='HC' && datum.g"}],"mark":{"type":"text","fontSize":7.5,"fontStyle":"italic","color":"#333"},
     "encoding":{"x":{"field":"lx","type":"quantitative"},"y":{"field":"ly","type":"quantitative"},"text":{"field":"g"}}}
   ]},
  {"width":50,"height":178,"data":{"values":[]},"mark":"point"},
  {"width":267,"height":178,
   "layer":[
    {"data":{"name":"thr"},"transform":[{"filter":"datum.p=='HF'"}],"mark":{"type":"rule","strokeDash":[2,2],"strokeWidth":1.3,"color":"#000"},
     "encoding":{"x":{"field":"vx","type":"quantitative","scale":{"domain":[0,1],"nice":false,"zero":false},"axis":{"title":"- Fluconazole (OD₆₀₀)","values":[0,0.05,0.1,0.15,0.2,0.25,0.3,0.35,0.4,0.45,0.5,0.55,0.6,0.65,0.7,0.75,0.8,0.85,0.9,0.95,1],"tickCount":100,"labelExpr":"abs(datum.value*2-round(datum.value*2))<0.01 ? format(datum.value,'.1f') : ''","labelOverlap":false,"tickSize":{"condition":{"test":"abs(datum.value*2-round(datum.value*2))<0.01","value":7},"value":4},"labelPadding":6,"titlePadding":8}}}},
    {"data":{"name":"thr"},"transform":[{"filter":"datum.p=='HF'"}],"mark":{"type":"rule","strokeDash":[2,2],"strokeWidth":1.3,"color":"#000"},
     "encoding":{"y":{"field":"hy","type":"quantitative","scale":{"domain":[0,1],"nice":false,"zero":false},"axis":{"title":"+ Fluconazole (OD₆₀₀)","values":[0,0.05,0.1,0.15,0.2,0.25,0.3,0.35,0.4,0.45,0.5,0.55,0.6,0.65,0.7,0.75,0.8,0.85,0.9,0.95,1],"tickCount":100,"labelExpr":"abs(datum.value*2-round(datum.value*2))<0.01 ? format(datum.value,'.1f') : ''","labelOverlap":false,"tickSize":{"condition":{"test":"abs(datum.value*2-round(datum.value*2))<0.01","value":7},"value":4},"labelPadding":3,"titlePadding":16}}}},
    {"data":{"name":"pts"},"transform":[{"filter":"datum.p=='HF' && !datum.g"}],"mark":{"type":"circle","size":38,"color":"#000","opacity":1},
     "encoding":{"x":{"field":"x","type":"quantitative"},"y":{"field":"y","type":"quantitative"}}},
    {"data":{"name":"pts"},"transform":[{"filter":"datum.p=='HF' && datum.g"}],"mark":{"type":"circle","size":32,"color":"#F5B464","opacity":1},
     "encoding":{"x":{"field":"x","type":"quantitative"},"y":{"field":"y","type":"quantitative"}}},
    {"data":{"name":"pts"},"transform":[{"filter":"datum.p=='HF' && datum.g"}],"mark":{"type":"text","fontSize":7.5,"fontStyle":"italic","color":"#333"},
     "encoding":{"x":{"field":"lx","type":"quantitative"},"y":{"field":"ly","type":"quantitative"},"text":{"field":"g"}}}
   ]}
 ]},
 {"width":736,"height":398,
  "encoding":{"x":{"field":"nx","type":"quantitative","scale":{"domain":[0,736],"nice":false,"zero":false},"axis":null},"y":{"field":"ny","type":"quantitative","scale":{"domain":[538,936],"reverse":true,"nice":false,"zero":false},"axis":null}},
  "layer":[
   {"data":{"name":"edges"},"transform":[{"lookup":"gene","from":{"data":{"name":"nodes"},"key":"gene","fields":["nx","ny"]}},{"lookup":"hub","from":{"data":{"name":"hubs"},"key":"hub","fields":["nx","ny"]},"as":["hx","hy"]}],
    "mark":{"type":"rule","strokeWidth":1.3},
    "encoding":{"x2":{"field":"hx"},"y2":{"field":"hy"},
     "stroke":{"field":"status","type":"nominal","scale":{"domain":["established","unestablished"],"range":["#808080","#F07C7C"]},
      "legend":{"orient":"none","legendX":283,"legendY":605,"title":null,"symbolType":"stroke","symbolSize":484,"symbolStrokeWidth":1.5,"rowPadding":6.5,"labelOffset":15,"labelFontSize":14.6,"labelFontWeight":"bold","labelLimit":500,
       "labelExpr":"datum.label=='established' ? 'Previously established regulator of antifungal tolerance' : 'Previously unestablished regulator of antifungal tolerance'"}}}},
   {"data":{"name":"hubs"},"mark":{"type":"rect","fill":"white","xOffset":-40,"x2Offset":40,"yOffset":-11,"y2Offset":11},
    "encoding":{"x2":{"field":"nx"},"y2":{"field":"ny"}}},
   {"data":{"name":"hubs"},"mark":{"type":"text","fontSize":13,"color":"#111","baseline":"middle"},
    "encoding":{"text":{"field":"hub"}}},
   {"data":{"name":"nodes"},"mark":{"type":"rect","xOffset":-21.5,"x2Offset":21.5,"yOffset":-10.5,"y2Offset":10.5,"cornerRadius":3,"stroke":"#4a4a4a","strokeWidth":1},
    "encoding":{"x2":{"field":"nx"},"y2":{"field":"ny"},
     "fill":{"field":"cat","type":"nominal","scale":{"domain":["Cln-Cdc28 signaling","TOR pathway","Snf1 pathway","Pcl-Pho85 signaling","DNA damage checkpoint","Gin4-septin complex","DDK complex","Pkc1-MAPK pathway","CK2 complex","Other"],"range":["#F4A3A0","#F9C8A4","#DEEFC8","#FCF9C6","#D8C6E4","#A9DCC6","#C6D3EA","#FBEA9F","#E8DAC3","#FFFFFF"]},
      "legend":{"values":["Cln-Cdc28 signaling","TOR pathway","Snf1 pathway","Pcl-Pho85 signaling","DNA damage checkpoint","Gin4-septin complex","DDK complex","Pkc1-MAPK pathway","CK2 complex"],"orient":"none","legendX":535,"legendY":700,"title":null,"symbolType":"circle","symbolSize":150,"symbolStrokeColor":"#555","symbolStrokeWidth":1.5,"rowPadding":4,"labelOffset":6,"labelFontSize":15,"labelFontWeight":"bold","labelLimit":300}}}},
   {"data":{"name":"nodes"},"transform":[{"filter":"datum.tier==1"}],"mark":{"type":"text","fontSize":11.5,"fontStyle":"italic","fontWeight":"bold","color":"#111","baseline":"middle"},
    "encoding":{"text":{"field":"gene"}}},
   {"data":{"name":"nodes"},"transform":[{"filter":"datum.tier==2"}],"mark":{"type":"text","fontSize":11.5,"fontStyle":"italic","color":"#333","baseline":"middle"},
    "encoding":{"text":{"field":"gene"}}},
   {"data":{"name":"panelB"},"mark":{"type":"text","fontSize":17,"fontWeight":"bold","align":"left","baseline":"middle","color":"#000"},
    "encoding":{"text":{"field":"panel"}}}
  ]}
]
}
